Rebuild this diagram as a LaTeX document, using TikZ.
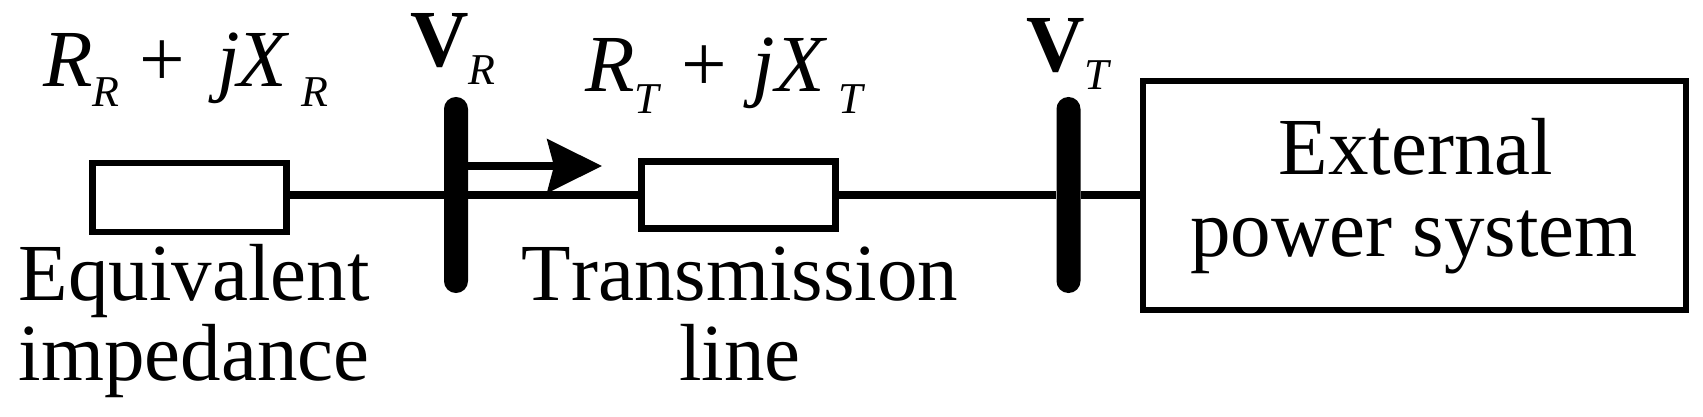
\documentclass[tikz,border=0pt]{standalone}
\usepackage{fontspec}
\setmainfont{Liberation Serif}
\usetikzlibrary{arrows.meta}
\newcommand{\lowsub}[2]{\raisebox{-#1pt}{\fontsize{33}{33}\selectfont\itshape #2}}
\tikzset{
  lbl/.style={inner sep=0pt,outer sep=0pt,font=\fontsize{60.75}{60}\selectfont},
  box/.style={draw,line width=4.9pt,inner sep=0pt,line join=miter},
  bus/.style={fill=black,inner sep=0pt,minimum width=18pt,minimum height=147pt,rounded corners=8.9pt},
  wire/.style={line width=5.3pt},
  flow/.style={line width=5.5pt,-{Stealth[length=41pt,width=40pt,inset=5pt]}}
}
\begin{document}
\begin{tikzpicture}[x=0.75pt,y=0.75pt,yscale=-1,xscale=1]
\useasboundingbox (0,0) rectangle (1703,417);

\draw (189.5,197.5) node [box,minimum width=145.5pt,minimum height=51.5pt] (eqbox) {};
\draw (738.5,195) node [box,minimum width=145.5pt,minimum height=50.5pt] (linebox) {};
\draw (1414.5,195.5) node [box,minimum width=407pt,minimum height=171.5pt] (extbox) {};

\draw (456,195) node [bus] (busR) {};
\draw (1068.5,195) node [bus] (busT) {};

\draw[wire] (eqbox.east |- linebox) -- (busR) -- (linebox);
\draw[wire] (linebox) -- (busT) -- (extbox.west |- busT);

\coordinate (flowtip) at (602,166);
\draw[flow] (busR.east |- flowtip) -- (flowtip);

\draw (43,87) node [anchor=base west,lbl] (zR) {\textit{R}\lowsub{15}{R} +\hspace{24pt}\textit{j}\hspace{-2pt}\textit{X}\hspace{9pt}\lowsub{15}{R}};
\draw (585,92) node [anchor=base west,lbl] (zT) {\textit{R}\lowsub{16}{T}\hspace{2pt} +\hspace{19pt}\textit{j}\hspace{0pt}\textit{X}\hspace{8.5pt}\lowsub{16}{T}};
\draw (410,67) node [anchor=base west,lbl] (vR) {\textbf{V}\lowsub{13.5}{R}};
\draw (1026,72) node [anchor=base west,lbl] (vT) {\textbf{V}\lowsub{13.5}{T}};

\draw (194,300) node [anchor=base,lbl] (eqtop) {Equivalent};
\draw (194,380) node [anchor=base,lbl] (eqlow) {impedance};
\draw (740,300) node [anchor=base,lbl] (linetop) {\addfontfeature{Kerning=Off}Transmission};
\draw (740,380) node [anchor=base,lbl] (linelow) {line};
\draw (1416,175) node [anchor=base,lbl] (exttop) {External};
\draw (1414,257) node [anchor=base,lbl] (extlow) {power system};

\end{tikzpicture}
\end{document}
